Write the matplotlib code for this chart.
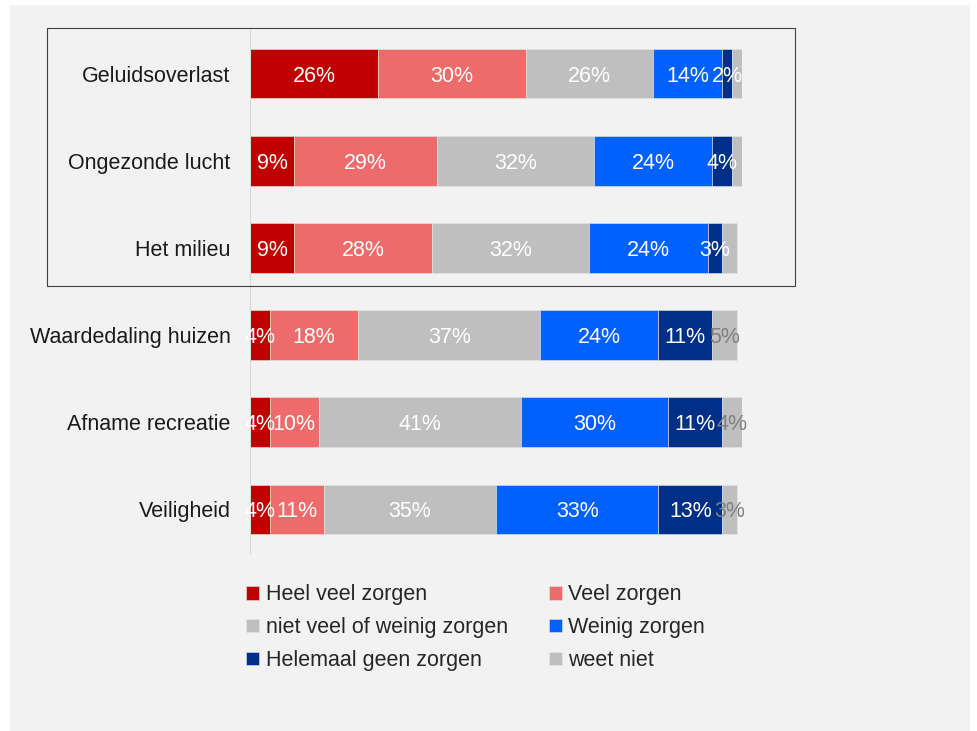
import matplotlib.pyplot as plt
from matplotlib.patches import Rectangle

plt.rcParams['font.family'] = ['Liberation Sans', 'DejaVu Sans']

# data
categories = ["Geluidsoverlast", "Ongezonde lucht", "Het milieu",
              "Waardedaling huizen", "Afname recreatie", "Veiligheid"]
series_names = ["Heel veel zorgen", "Veel zorgen", "niet veel of weinig zorgen",
                "Weinig zorgen", "Helemaal geen zorgen", "weet niet"]
heel_veel = [26, 9, 9, 4, 4, 4]
veel = [30, 29, 28, 18, 10, 11]
niet_veel = [26, 32, 32, 37, 41, 35]
weinig = [14, 24, 24, 24, 30, 33]
geen = [2, 4, 3, 11, 11, 13]
weet_niet = [2, 2, 3, 5, 4, 3]

colors = ["#c00000", "#ee6b6b", "#bfbfbf", "#0061ff", "#002f87", "#bfbfbf"]
series = [heel_veel, veel, niet_veel, weinig, geen, weet_niet]

fig = plt.figure(figsize=(9.78, 7.31), dpi=100, facecolor="white")
fig.patches.append(Rectangle((10 / 978, 0), 960 / 978, 726 / 731,
                             transform=fig.transFigure, facecolor="#f2f2f2",
                             edgecolor="none", zorder=-10))

ax = fig.add_axes([250 / 978, 1 - 553 / 731, 492 / 978, 523 / 731])
ax.set_facecolor("none")

ypos = list(range(len(categories)))
left = [0] * len(categories)
handles = []
for k, vals in enumerate(series):
    bars = ax.barh(ypos, vals, left=left, height=0.57, color=colors[k],
                   edgecolor="#e6e6e6", linewidth=0.4, label=series_names[k])
    handles.append(bars)
    for i, v in enumerate(vals):
        cx = left[i] + v / 2
        if k == 5:
            # weet niet labels only on the lower rows
            if i >= 3:
                ax.text(cx, i, f"{v}%", ha="center", va="center_baseline",
                        color="#808080", fontsize=15.5)
        else:
            ax.text(cx, i, f"{v}%", ha="center", va="center_baseline",
                    color="white", fontsize=15.5)
    left = [l + v for l, v in zip(left, vals)]

ax.set_xlim(0, 100)
ax.set_ylim(5.5, -0.5)
ax.set_yticks(ypos)
ax.set_yticklabels(categories, fontsize=15.5, color="#1a1a1a")
ax.tick_params(axis="y", length=0, pad=14)
ax.set_xticks([])
for s in ["top", "right", "bottom"]:
    ax.spines[s].set_visible(False)
ax.spines["left"].set_color("#d9d9d9")

# box around the first three rows
fig.patches.append(Rectangle((47 / 978, 1 - 286 / 731), 748 / 978, 258 / 731,
                             transform=fig.transFigure, facecolor="none",
                             edgecolor="#404040", linewidth=0.8, zorder=5))

order = [0, 2, 4, 1, 3, 5]
leg = fig.legend([handles[i] for i in order], [series_names[i] for i in order],
                 ncol=2, loc="upper left", bbox_to_anchor=(227 / 978, 1 - 565 / 731),
                 frameon=False, fontsize=15.5, handlelength=0.6, handleheight=0.6,
                 handletextpad=0.3, columnspacing=1.9, labelspacing=0.55)
for t in leg.get_texts():
    t.set_color("#262626")

fig.savefig("out.png", dpi=100, facecolor=fig.get_facecolor())
